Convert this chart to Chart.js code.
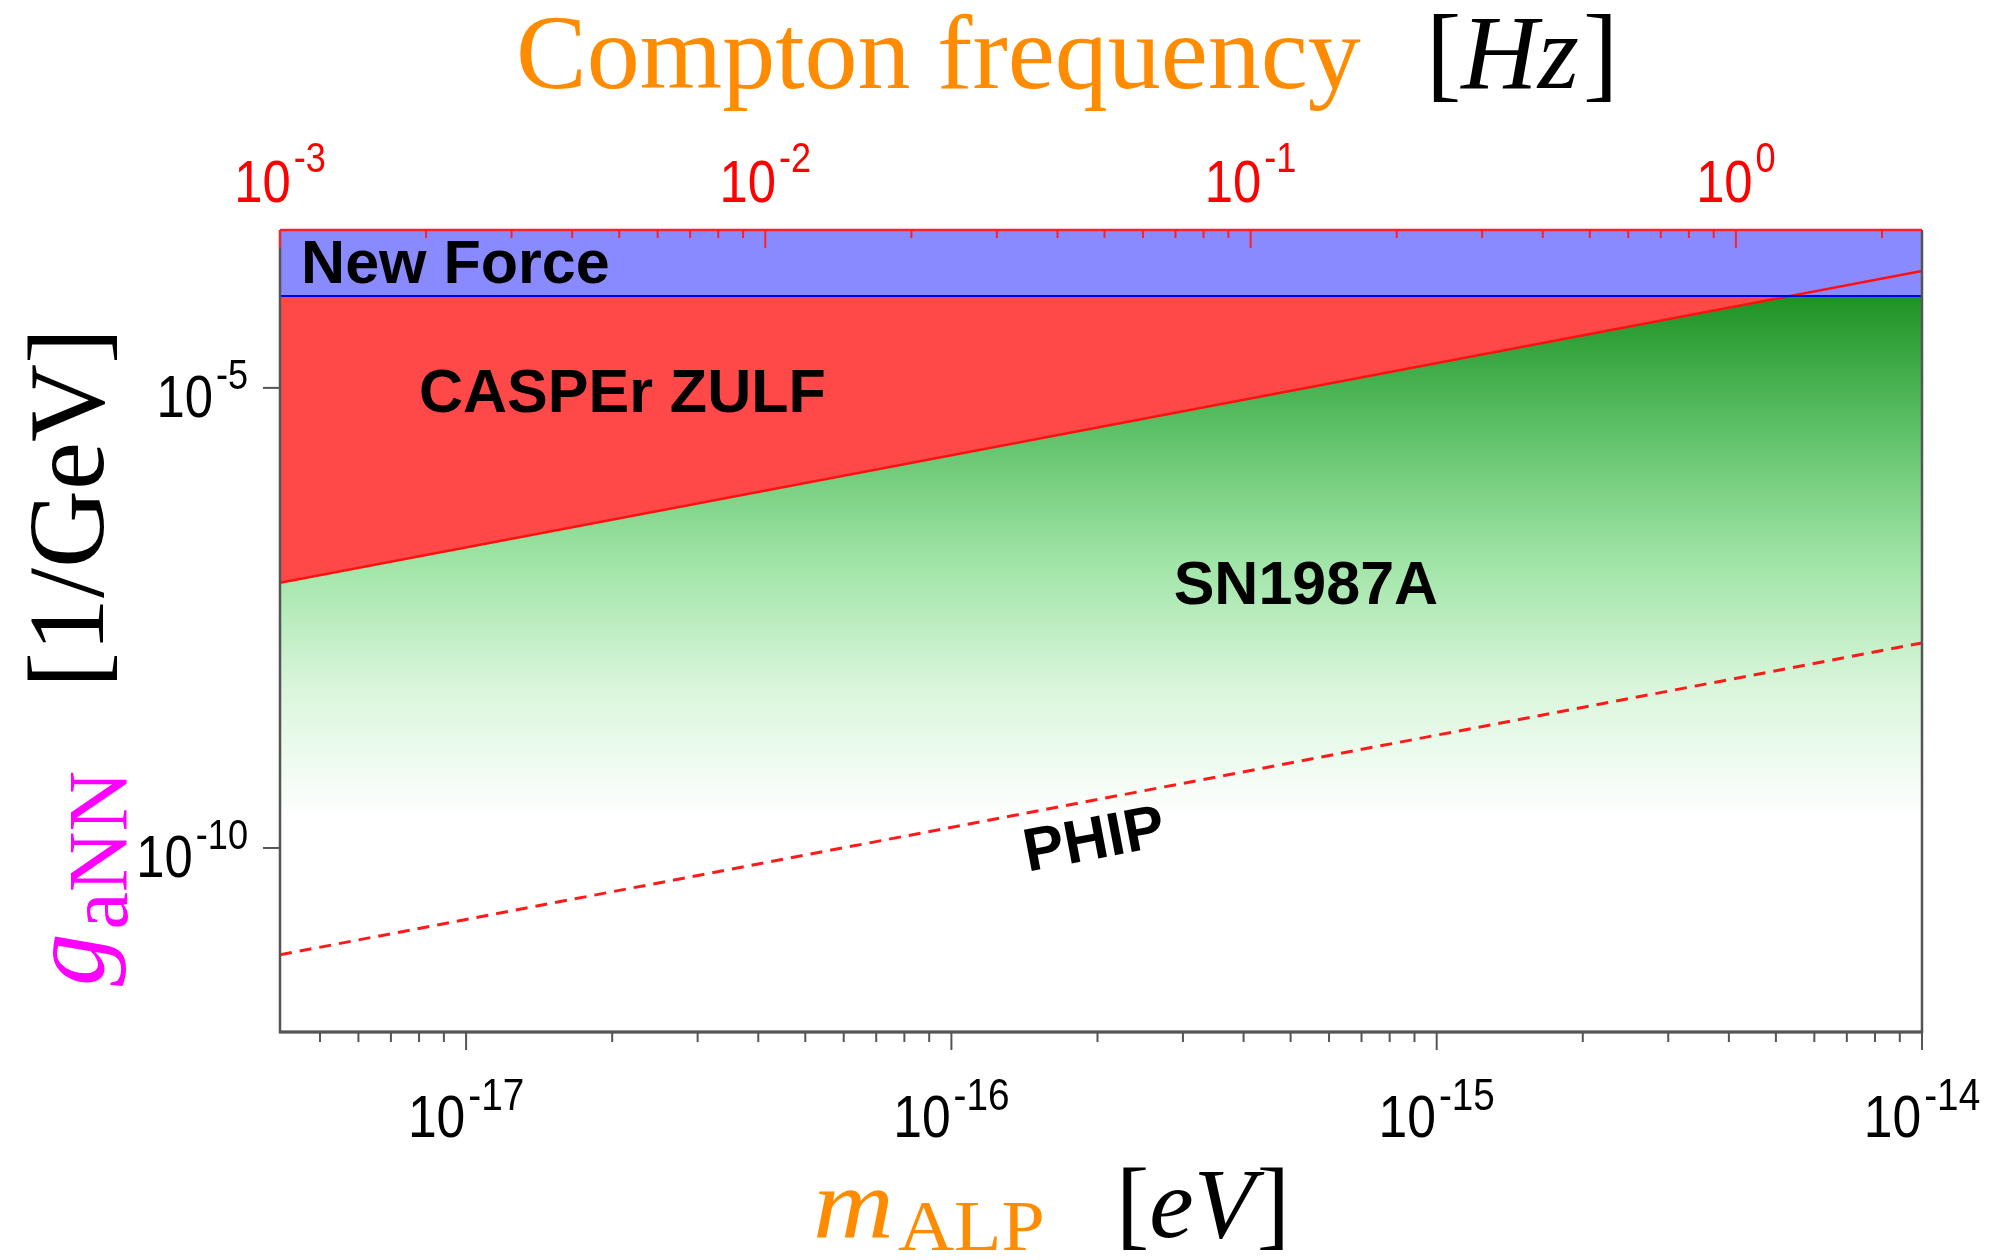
<!DOCTYPE html>
<html>
<head>
<meta charset="utf-8">
<script src="https://cdn.jsdelivr.net/npm/chart.js@4.4.1/dist/chart.umd.min.js"></script>
<style>
  html, body { margin: 0; padding: 0; background: #fff; }
  #wrap { width: 1996px; height: 1260px; position: relative; }
</style>
</head>
<body>
<div id="wrap"><canvas id="alpChart"></canvas></div>
<script>
// ALP mass range (eV) and the matching Compton frequency range (Hz)
const massRange = [4.1357e-18, 1e-14];
const freqRange = [1e-3, 2.418];
const couplingRange = [1e-12, 5.2e-4];

// Boundaries of each region, g_aNN in 1/GeV at the two ends of the mass range
const newForceLimit = [1e-4, 1e-4];
const sn1987aLimit = [1e-4, 1e-4];
const casperZulfLimit = [7.6e-8, 1.87e-4];
const phipReach = [6.9e-12, 1.69e-8];

// Labelled ticks
const massTicks = [1e-17, 1e-16, 1e-15, 1e-14];
const freqTicks = [1e-3, 1e-2, 1e-1, 1];
const couplingTicks = [1e-10, 1e-5];

const toPoints = (ys) => massRange.map((m, i) => ({ x: m, y: ys[i] }));

const expOf = (v) => String(Math.round(Math.log10(v)));

// Helper: 1..9 x 10^n ticks inside [min, max]
function logTicks(min, max) {
  const out = [];
  for (let e = Math.floor(Math.log10(min)); e <= Math.ceil(Math.log10(max)); e++) {
    for (let s = 1; s < 10; s++) {
      const v = s * Math.pow(10, e);
      if (v >= min * 0.999 && v <= max * 1.001) out.push({ value: v, major: s === 1 });
    }
  }
  return out;
}

// Green SN1987A shading, dark at the top fading to white
function snGradient(context) {
  const chart = context.chart;
  const y = chart.scales.y;
  if (!chart.chartArea || !y) return 'rgba(60,170,70,0.6)';
  const top = y.getPixelForValue(1e-4);
  const bot = y.getPixelForValue(2e-10);
  const g = chart.ctx.createLinearGradient(0, top, 0, bot);
  g.addColorStop(0, 'rgb(30,146,36)');
  g.addColorStop(0.25, 'rgb(92,192,102)');
  g.addColorStop(0.5, 'rgb(158,228,165)');
  g.addColorStop(0.75, 'rgb(218,246,220)');
  g.addColorStop(1, 'rgb(255,255,255)');
  return g;
}

const SANS = '"Liberation Sans", Arial, sans-serif';
const SERIF = '"Liberation Serif", "Times New Roman", serif';

// Helper: "10" with a raised exponent
function drawPower(ctx, exp, x, y, o) {
  const squeeze = 0.86, gap = 3;
  ctx.font = `${o.size}px ${SANS}`;
  const wb = ctx.measureText('10').width * squeeze;
  ctx.font = `${o.sup}px ${SANS}`;
  const we = ctx.measureText(exp).width * squeeze;
  const total = wb + gap + we;
  const left = o.align === 'center' ? x - total / 2 : (o.align === 'right' ? x - total : x);
  ctx.fillStyle = o.color;
  ctx.textAlign = 'left';
  ctx.textBaseline = 'alphabetic';
  ctx.save();
  ctx.translate(left, y);
  ctx.scale(squeeze, 1);
  ctx.font = `${o.size}px ${SANS}`;
  ctx.fillText('10', 0, 0);
  ctx.restore();
  ctx.save();
  ctx.translate(left + wb + gap, y - o.rise);
  ctx.scale(squeeze, 1);
  ctx.font = `${o.sup}px ${SANS}`;
  ctx.fillText(exp, 0, 0);
  ctx.restore();
}

// Helper: run of differently styled text pieces
function drawRun(ctx, parts, x, y) {
  let cx = x;
  parts.forEach(p => {
    const sx = p.stretch || 1;
    ctx.font = p.font;
    ctx.fillStyle = p.color;
    ctx.save();
    ctx.translate(cx, y + (p.dy || 0));
    ctx.scale(sx, 1);
    ctx.fillText(p.text, 0, 0);
    ctx.restore();
    cx += ctx.measureText(p.text).width * sx + (p.after || 0);
  });
}

const axisDecor = {
  id: 'axisDecor',
  afterDatasetsDraw(chart) {
    const { ctx, chartArea: a, scales } = chart;
    ctx.save();
    ctx.lineCap = 'butt';

    // plot frame
    ctx.strokeStyle = '#555';
    ctx.lineWidth = 2.5;
    ctx.beginPath();
    ctx.moveTo(a.left, a.top);
    ctx.lineTo(a.left, a.bottom);
    ctx.lineTo(a.right, a.bottom);
    ctx.lineTo(a.right, a.top);
    ctx.stroke();
    ctx.lineWidth = 3;
    ctx.beginPath();
    ctx.moveTo(a.left - 1, a.bottom);
    ctx.lineTo(a.right + 1, a.bottom);
    ctx.stroke();
    ctx.strokeStyle = '#ff2020';
    ctx.lineWidth = 2.5;
    ctx.beginPath();
    ctx.moveTo(a.left, a.top);
    ctx.lineTo(a.right, a.top);
    ctx.stroke();

    // bottom ticks (outward)
    ctx.strokeStyle = '#555';
    ctx.lineWidth = 2;
    scales.x.ticks.forEach(t => {
      const px = scales.x.getPixelForValue(t.value);
      ctx.beginPath();
      ctx.moveTo(px, a.bottom);
      ctx.lineTo(px, a.bottom + (t.major ? 18 : 10));
      ctx.stroke();
    });
    // left ticks
    scales.y.ticks.forEach(t => {
      const py = scales.y.getPixelForValue(t.value);
      ctx.beginPath();
      ctx.moveTo(a.left, py);
      ctx.lineTo(a.left - 17, py);
      ctx.stroke();
    });
    // top ticks, red, pointing into the plot
    ctx.strokeStyle = '#ff2020';
    scales.x2.ticks.forEach(t => {
      const px = scales.x2.getPixelForValue(t.value);
      ctx.beginPath();
      ctx.moveTo(px, a.top);
      ctx.lineTo(px, a.top + (t.major ? 18 : 8));
      ctx.stroke();
    });

    // region labels
    const X = (lm) => scales.x.getPixelForValue(Math.pow(10, lm));
    const Y = (lg) => scales.y.getPixelForValue(Math.pow(10, lg));
    ctx.fillStyle = '#000';
    ctx.font = `bold 61px ${SANS}`;
    ctx.textAlign = 'left';
    ctx.textBaseline = 'alphabetic';
    ctx.fillText('New Force', X(-17.34), Y(-3.86));
    ctx.fillText('CASPEr ZULF', X(-17.097), Y(-5.26));
    ctx.fillText('SN1987A', X(-15.542), Y(-7.354));

    const x0 = scales.x.getPixelForValue(massRange[0]);
    const x1 = scales.x.getPixelForValue(massRange[1]);
    const y0 = scales.y.getPixelForValue(phipReach[0]);
    const y1 = scales.y.getPixelForValue(phipReach[1]);
    ctx.save();
    ctx.translate(X(-15.705), Y(-9.935));
    ctx.rotate(Math.atan2(y1 - y0, x1 - x0));
    ctx.textAlign = 'center';
    ctx.textBaseline = 'middle';
    ctx.fillText('PHIP', 0, 0);
    ctx.restore();

    ctx.restore();
  },
  afterDraw(chart) {
    const { ctx, chartArea: a, scales } = chart;
    ctx.save();

    // tick labels
    massTicks.forEach(v => {
      drawPower(ctx, expOf(v), scales.x.getPixelForValue(v), a.bottom + 105,
        { size: 60, sup: 45, rise: 27, align: 'center', color: '#000' });
    });
    freqTicks.forEach(v => {
      drawPower(ctx, expOf(v), scales.x2.getPixelForValue(v), a.top - 28,
        { size: 59, sup: 42, rise: 30, align: 'center', color: '#ff0000' });
    });
    couplingTicks.forEach(v => {
      drawPower(ctx, expOf(v), a.left - 32, scales.y.getPixelForValue(v) + 29,
        { size: 59, sup: 42, rise: 28, align: 'right', color: '#000' });
    });

    ctx.textAlign = 'left';
    ctx.textBaseline = 'alphabetic';
    const orange = '#ff8c00';

    // top title
    ctx.font = `106px ${SERIF}`;
    ctx.fillStyle = orange;
    ctx.fillText('Compton frequency', 516, 88);
    drawRun(ctx, [
      { text: '[', font: `106px ${SERIF}`, color: '#000' },
      { text: 'Hz', font: `italic 106px ${SERIF}`, color: '#000', after: 4 },
      { text: ']', font: `106px ${SERIF}`, color: '#000' }
    ], 1426, 88);

    // x title
    drawRun(ctx, [
      { text: 'm', font: `italic 100px ${SERIF}`, color: orange, stretch: 1.12, after: 4 },
      { text: 'ALP', font: `72px ${SERIF}`, color: orange, stretch: 1.08, dy: 13 }
    ], 813, 1237);
    drawRun(ctx, [
      { text: '[', font: `100px ${SERIF}`, color: '#000' },
      { text: 'eV', font: `italic 100px ${SERIF}`, color: '#000', after: 2 },
      { text: ']', font: `100px ${SERIF}`, color: '#000' }
    ], 1116, 1237);

    // y title, rotated
    ctx.save();
    ctx.translate(103, 986);
    ctx.rotate(-Math.PI / 2);
    const magenta = '#ff00ff';
    drawRun(ctx, [
      { text: 'g', font: `italic 105px ${SERIF}`, color: magenta, after: 4 },
      { text: 'aNN', font: `84px ${SERIF}`, color: magenta, dy: 24 }
    ], 0, 0);
    drawRun(ctx, [
      { text: '[1/GeV]', font: `108px ${SERIF}`, color: '#000' }
    ], 298, 0);
    ctx.restore();

    ctx.restore();
  }
};

new Chart(document.getElementById('alpChart'), {
  type: 'line',
  data: {
    datasets: [
      {
        label: 'PHIP',
        data: toPoints(phipReach),
        borderColor: '#ff1a1a',
        borderWidth: 3,
        borderDash: [12, 8],
        fill: false,
        order: 0
      },
      {
        label: 'New Force',
        data: toPoints(newForceLimit),
        borderColor: '#0000ee',
        borderWidth: 2,
        backgroundColor: '#8a8aff',
        fill: 'end',
        order: 1
      },
      {
        label: 'CASPEr ZULF',
        data: toPoints(casperZulfLimit),
        borderColor: '#ff1010',
        borderWidth: 2.5,
        backgroundColor: '#ff4848',
        fill: 'end',
        order: 2
      },
      {
        label: 'SN1987A',
        data: toPoints(sn1987aLimit),
        borderWidth: 0,
        borderColor: 'rgba(0,0,0,0)',
        backgroundColor: snGradient,
        fill: 'start',
        order: 3
      }
    ]
  },
  options: {
    responsive: true,
    maintainAspectRatio: false,
    animation: false,
    layout: { padding: { right: 74 } },
    elements: { point: { radius: 0 }, line: { tension: 0 } },
    plugins: {
      legend: { display: false },
      tooltip: { enabled: false },
      filler: { drawTime: 'beforeDatasetsDraw' }
    },
    scales: {
      x: {
        type: 'logarithmic',
        position: 'bottom',
        min: massRange[0],
        max: massRange[1],
        grid: { display: false },
        border: { display: false },
        ticks: { display: false },
        afterBuildTicks: (s) => { s.ticks = logTicks(massRange[0], massRange[1]); },
        afterFit: (s) => { s.height = 228; }
      },
      x2: {
        type: 'logarithmic',
        position: 'top',
        min: freqRange[0],
        max: freqRange[1],
        grid: { display: false },
        border: { display: false },
        ticks: { display: false },
        afterBuildTicks: (s) => { s.ticks = logTicks(freqRange[0], freqRange[1]); },
        afterFit: (s) => { s.height = 230; }
      },
      y: {
        type: 'logarithmic',
        position: 'left',
        min: couplingRange[0],
        max: couplingRange[1],
        grid: { display: false },
        border: { display: false },
        ticks: { display: false },
        afterBuildTicks: (s) => { s.ticks = couplingTicks.map(v => ({ value: v, major: true })); },
        afterFit: (s) => { s.width = 280; }
      }
    }
  },
  plugins: [axisDecor]
});
</script>
</body>
</html>
